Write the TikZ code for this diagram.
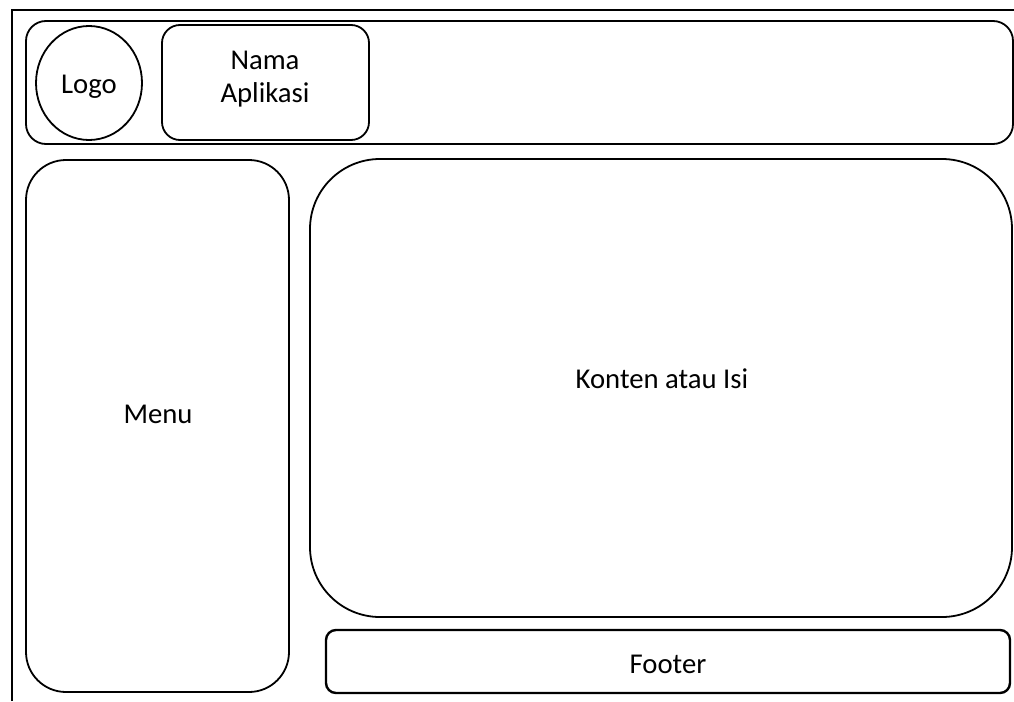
\documentclass[tikz,border=0pt]{standalone}
\usepackage{fontspec}
\setmainfont{Carlito}
\usepackage{tikz}
\usetikzlibrary{positioning}

\begin{document}
\begin{tikzpicture}[x=1pt, y=-1pt, line width=1.8pt,
    every node/.style={font=\fontsize{28.7}{33}\selectfont, align=center},
    label text/.style={anchor=base}]
    \useasboundingbox (0,0) rectangle (1014,701);

    % Frame
    \draw (12,701) -- (12,10) -- (1014,10);

    % Header
    \draw[rounded corners=20] (26,21) rectangle (1013,144);
    \draw (89,83) ellipse (53 and 57);
    \node[label text] (logo) at (89,93) {Logo};
    \draw[rounded corners=18] (162,25) rectangle (369,140);
    \node (nama) at (265,79) {Nama\\Aplikasi};

    % Menu
    \draw[rounded corners=40] (26,160) rectangle (289,692);
    \node[label text] (menu) at (158,423) {Menu};

    % Content
    \draw[rounded corners=70] (310,159) rectangle (1012,617);
    \node[label text] (konten) at (662,388) {Konten atau Isi};

    % Footer
    \draw[rounded corners=10, line width=2.4pt] (326,630) rectangle (1010,693);
    \node[label text] (footer) at (668,673) {Footer};

\end{tikzpicture}
\end{document}
